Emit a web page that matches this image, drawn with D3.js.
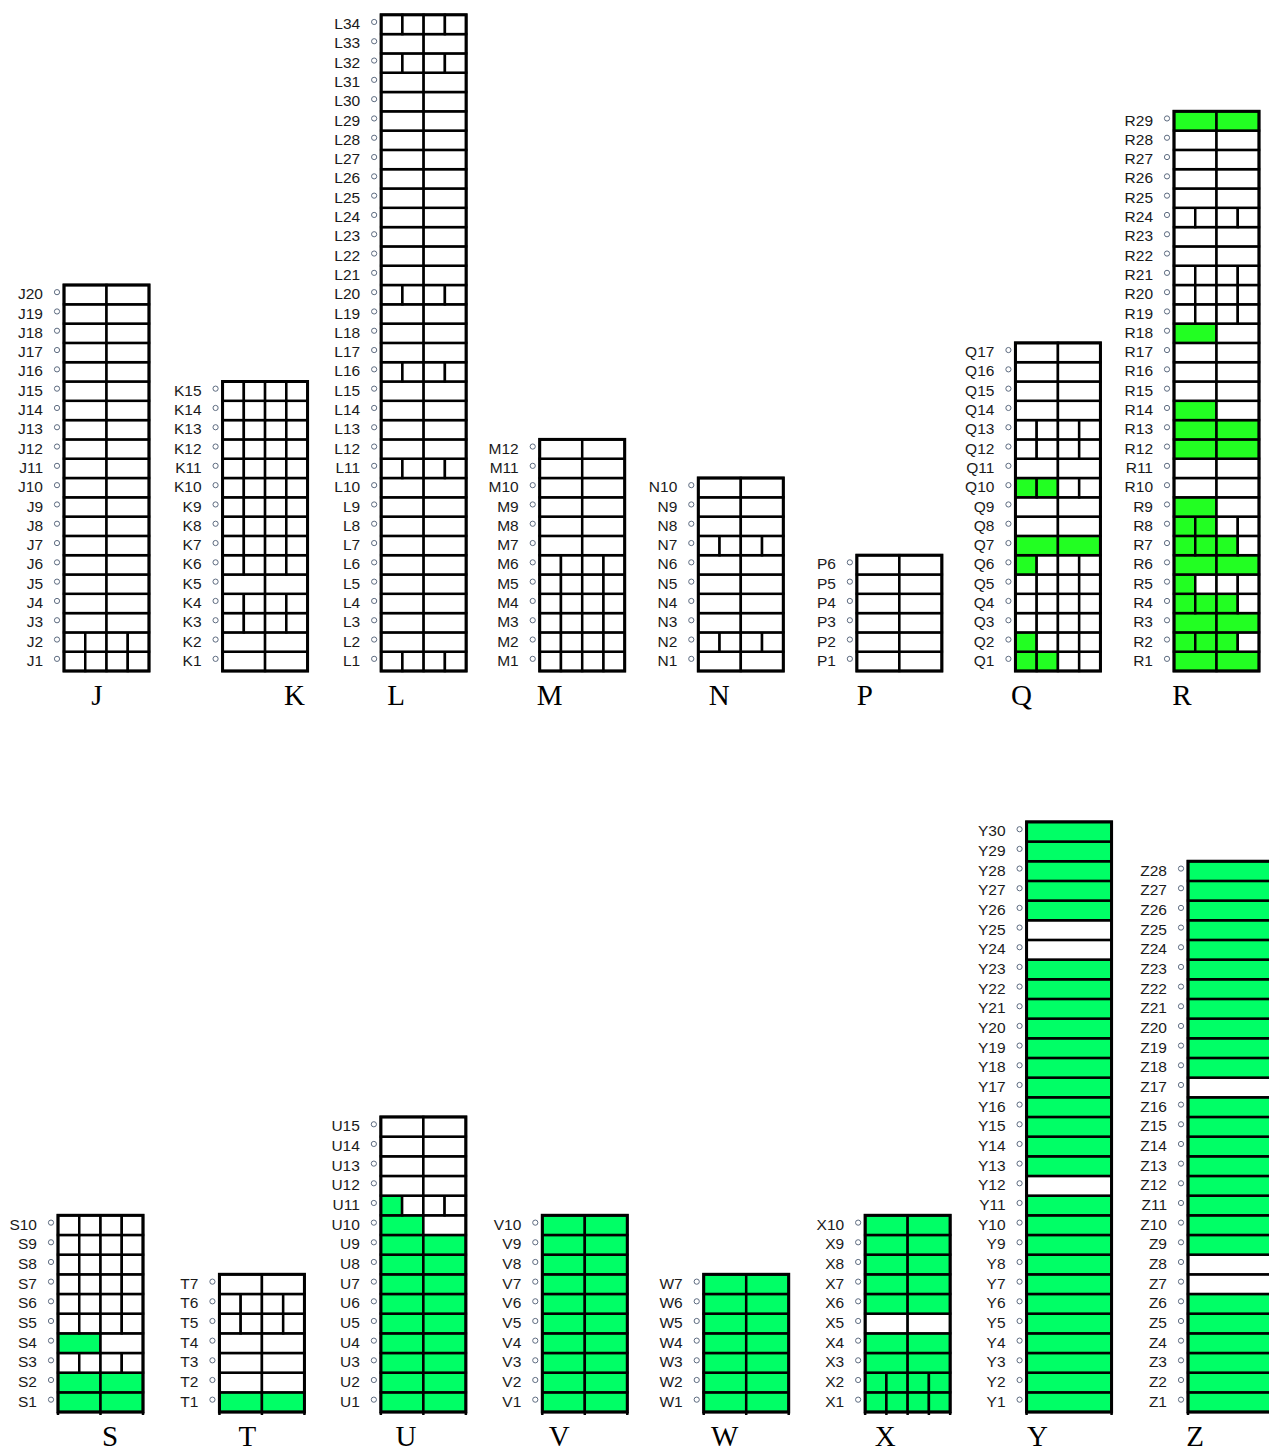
<!DOCTYPE html>
<html><head><meta charset="utf-8">
<script src="https://cdn.jsdelivr.net/npm/d3@7"></script>
<style>html,body{margin:0;padding:0;background:#fff;}</style>
</head><body>
<svg id="chart" width="1269" height="1449"></svg>
<script>
// ---------- DATA ----------
// Each row (from row 1 upward) is a string of cells: 'g' = green, 'w' = white.
const topCategories = ["J","K","L","M","N","P","Q","R"];
const bottomCategories = ["S","T","U","V","W","X","Y","Z"];

const rowsJ = ["wwww","wwww","ww","ww","ww","ww","ww","ww","ww","ww","ww","ww","ww","ww","ww","ww","ww","ww","ww","ww"];
const rowsK = ["ww","ww","wwww","wwww","ww","wwww","wwww","wwww","wwww","wwww","wwww","wwww","wwww","wwww","wwww"];
const rowsL = ["wwww","ww","ww","ww","ww","ww","ww","ww","ww","ww","wwww","ww","ww","ww","ww","wwww","ww","ww","ww","wwww",
               "ww","ww","ww","ww","ww","ww","ww","ww","ww","ww","ww","wwww","ww","wwww"];
const rowsM = ["wwww","wwww","wwww","wwww","wwww","wwww","ww","ww","ww","ww","ww","ww"];
const rowsN = ["ww","wwww","ww","ww","ww","ww","wwww","ww","ww","ww"];
const rowsP = ["ww","ww","ww","ww","ww","ww"];
const rowsQ = ["ggww","gwww","wwww","wwww","wwww","gwww","gg","ww","ww","ggww","ww","wwww","wwww","ww","ww","ww","ww"];
const rowsR = ["gg","gggw","gg","gggw","gwww","gg","gggw","ggww","gw","ww","ww","gg","gg","gw","ww","ww","ww","gw",
               "wwww","wwww","wwww","ww","ww","wwww","ww","ww","ww","ww","gg"];

const rowsS = ["gg","gg","wwww","gw","wwww","wwww","wwww","wwww","wwww","wwww"];
const rowsT = ["gg","ww","ww","ww","wwww","wwww","ww"];
const rowsU = ["gg","gg","gg","gg","gg","gg","gg","gg","gg","gw","gwww","ww","ww","ww","ww"];
const rowsV = ["gg","gg","gg","gg","gg","gg","gg","gg","gg","gg"];
const rowsW = ["gg","gg","gg","gg","gg","gg","gg"];
const rowsX = ["gggg","gggg","gg","gg","ww","gg","gg","gg","gg","gg"];
const rowsY = ["g","g","g","g","g","g","g","g","g","g","g","w","g","g","g","g","g","g","g","g","g","g","g","w","w","g","g","g","g","g"];
const rowsZ = ["g","g","g","g","g","g","w","w","g","g","g","g","g","g","g","g","w","g","g","g","g","g","g","g","g","g","g","g"];

const topRows = [rowsJ, rowsK, rowsL, rowsM, rowsN, rowsP, rowsQ, rowsR];
const bottomRows = [rowsS, rowsT, rowsU, rowsV, rowsW, rowsX, rowsY, rowsZ];

// ---------- LAYOUT ----------
const panels = [
  { cats: topCategories, rows: topRows, x0: 64, x7: 1174, yBottom: 671, rowH: 19.3, ext: 0,
    green: "#22ff22", labelY: 705, labelDx: [33, 72, 15, 10, 21, 8, 6, 8] },
  { cats: bottomCategories, rows: bottomRows, x0: 58, x7: 1188, yBottom: 1412, rowH: 19.67, ext: 3,
    green: "#00ff66", labelY: 1446, labelDx: [52, 28, 25, 17, 21, 20, 11, 7] }
];
const colW = 85;

const svg = d3.select("#chart");

panels.forEach(p => {
  const x = d3.scaleLinear().domain([0, p.cats.length - 1]).range([p.x0, p.x7]);
  const maxRows = d3.max(p.rows, r => r.length);
  const y = d3.scaleLinear().domain([0, maxRows]).range([p.yBottom, p.yBottom - maxRows * p.rowH]);

  p.cats.forEach((cat, ci) => {
    const rows = p.rows[ci];
    const left = x(ci);
    const g = svg.append("g");

    rows.forEach((code, ri) => {
      const n = code.length;
      const cw = colW / n;
      const yTop = y(ri + 1), yBot = y(ri);
      const cells = code.split("").map((c, k) => ({ c, k }));
      g.selectAll(null).data(cells).enter().append("rect")
        .attr("x", d => left + d.k * cw)
        .attr("y", yTop)
        .attr("width", cw)
        .attr("height", yBot - yTop)
        .attr("fill", d => d.c === "g" ? p.green : "#fff")
        .attr("stroke", "#000")
        .attr("stroke-width", 2.5);

      const cy = (yTop + yBot) / 2;
      g.append("text")
        .attr("x", left - 21)
        .attr("y", cy + 4.6)
        .attr("text-anchor", "end")
        .attr("font-family", "Liberation Sans, Arial, sans-serif")
        .attr("font-size", 15.5)
        .attr("fill", "#1a1a1a")
        .text(cat + (ri + 1));
      g.append("circle")
        .attr("cx", left - 7)
        .attr("cy", cy - 2.5)
        .attr("r", 2.6)
        .attr("fill", "#fff")
        .attr("stroke", "#5d6b80")
        .attr("stroke-width", 1);
    });

    // small extensions of the bottom-row dividers below the column
    if (p.ext > 0) {
      const n0 = rows[0].length;
      const xs = d3.range(n0 + 1).map(k => left + k * colW / n0);
      g.selectAll(null).data(xs).enter().append("line")
        .attr("x1", d => d).attr("x2", d => d)
        .attr("y1", y(0)).attr("y2", y(0) + p.ext)
        .attr("stroke", "#000").attr("stroke-width", 2.5);
    }

    // outer border
    g.append("rect")
      .attr("x", left)
      .attr("y", y(rows.length))
      .attr("width", colW)
      .attr("height", y(0) - y(rows.length))
      .attr("fill", "none")
      .attr("stroke", "#000")
      .attr("stroke-width", 3);

    // category label
    svg.append("text")
      .attr("x", left + p.labelDx[ci])
      .attr("y", p.labelY)
      .attr("text-anchor", "middle")
      .attr("font-family", "Liberation Serif, Times New Roman, serif")
      .attr("font-size", 29)
      .attr("fill", "#000")
      .text(cat);
  });
});
</script>
</body></html>
